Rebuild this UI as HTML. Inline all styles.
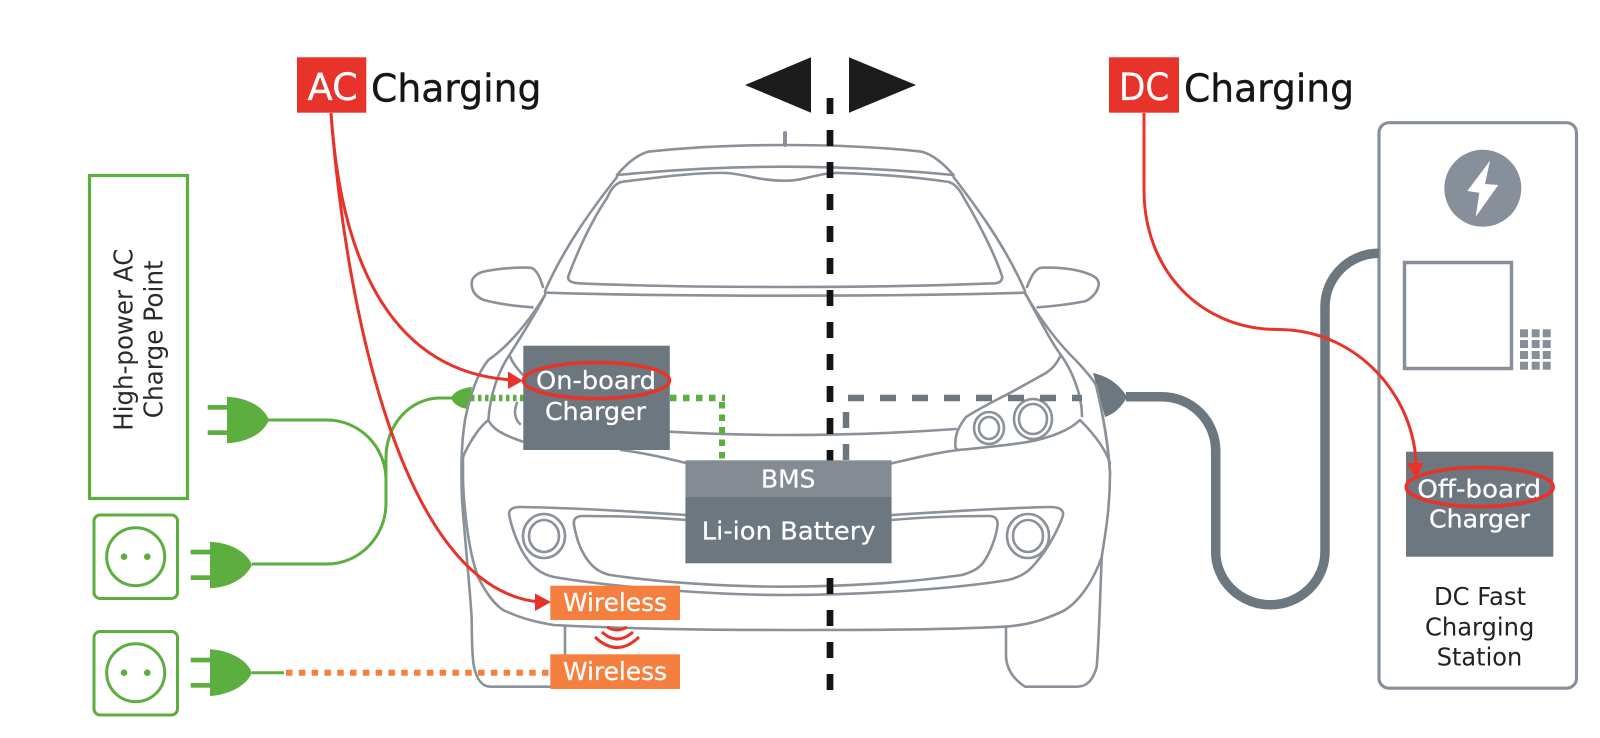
<!DOCTYPE html>
<html><head><meta charset="utf-8"><style>
html,body{margin:0;padding:0;background:#fff}
svg{display:block}
text{font-family:"DejaVu Sans","Liberation Sans",sans-serif}
.c{fill:none;stroke:#8a9199;stroke-width:2.6;stroke-linecap:round;stroke-linejoin:round}
.w{fill:#fff;stroke:#fff;stroke-width:.25}
.k{fill:#1c1c1c}
</style></head><body>
<svg width="1600" height="738" viewBox="0 0 1600 738" xmlns="http://www.w3.org/2000/svg">
<rect width="1600" height="738" fill="#fff"/>

<path d="M472,387C460,388 453,393 451,398C453,404 460,408 468,409Z" fill="#5cae3e"/>

<!-- car -->
<g class="c">
<path d="M785,145V133" stroke-width="4"/>
<path d="M617,175C627,163 637,155 648,151.7C690,147 740,145 785,145C830,145 880,147 922,151.7C934,155 944,164 953.5,175"/>
<path d="M617,175C680,169 730,166.7 785,166.7C840,166.7 890,169 953.5,175"/>
<path d="M617,177C595,205 565,245 545,291"/>
<path d="M953.5,177C975,205 1005,245 1025,291"/>
<path d="M621,182C660,177 700,172 726,173C745,174 760,181 785,180.7C805,181 820,172 840,173C875,174 915,177 949,182C955,184 960,190 964,198C980,225 995,255 1002,276C1003,281 999,283 995,283.3C925,286 860,287 785,287C710,287 640,286 579,283.3C572,283 567,281 568.4,276C578,250 592,220 607,198C611,189 615,184 621,182Z"/>
<path d="M545,292.7C620,295 700,295.7 785,295.7C870,295.7 950,295 1025,292.7"/>
<path d="M543,287C540,277 536,268 530,267.7C515,267 495,269 482,272C474,275 471.6,279 471.6,284C472,292 476,297 484,300C498,304 515,306 532.6,307.3"/>
<path d="M1027,287C1031,277 1035,268 1042,267.7C1057,267 1075,269 1086,273C1095,276 1098.7,279 1098.7,284C1098,292 1093,297 1086,301C1072,304 1055,306 1037.6,307.3"/>
<path d="M545,295C530,320 510,345 488.4,360C478,372 470,395 465,420C461,445 461,470 462,500C465,540 470,590 471.6,617C472,640 472,655 474,667C477,680 482,686.7 490.5,686.7H552"/>
<path d="M545,295C535,315 520,338 509.4,355C498,372 490,395 488.4,420"/>
<path d="M509.4,355C512,362 518,370 524,376"/>
<path d="M1025,293C1040,320 1060,345 1075.5,360C1085,370 1092,378 1096,385C1102,410 1108,440 1110,473C1110,510 1105,535 1101.7,557C1100,600 1099,640 1096.7,667C1093,680 1087,686.7 1076.7,686.7H1025C1015,680 1006,670 1006,655V626.7"/>
<path d="M1025,293C1040,320 1050,340 1060.8,355C1072,370 1082,395 1082,416"/>
<path d="M488.4,420C478,428 468,445 463,457"/>
<path d="M463,457V483"/>
<path d="M488.4,420C492,428 500,434 524,442"/>
<path d="M517,403C514,410 514,418 520,424"/>
<path d="M669,431.7C710,434 750,435 785,435C840,435 900,433 956,429"/>
<path d="M621,450C645,453 665,458 686,463"/>
<path d="M892,463.3C915,458 935,453 958,450C990,447 1010,445 1029,441.7C1050,438 1070,430 1080,420C1092,432 1105,448 1110,463"/>
<path d="M1060.8,355C1056,366 1050,370 1046,373C1035,379 1028,383 1020.8,387C1003,397 985,405 966,417C960,425 956,432 955.6,440C955,446 955,449 958,450"/>
<path d="M478,577C488,597 496,605 503,610C520,618 535,622 553.6,625C630,629 710,630 785,630C860,630 940,630 1004,626.7C1030,625 1045,619 1059,613C1072,608 1090,590 1101.7,557"/>
<path d="M463,483C465,520 470,555 478,577"/>
<path d="M565,626.7V655"/>
<path d="M686,515C640,512 580,508 520,507C512,507 508,510 509.4,516C512,530 520,550 528,560C535,570 545,575 554,577C600,585 700,595 785,595C870,595 960,588 1008,580C1025,576 1032,568 1038,560C1047,550 1058,530 1062.9,516C1064,510 1060,507 1050,507C1000,508 940,512 892,515"/>
<path d="M686,520C650,517 610,516 583,516C576,516 573,519 574,525C577,542 583,555 590,563C596,570 602,573 610,575C665,583 730,586.7 785,586.7C840,586.7 905,583 962,575C972,572 978,569 983,563C990,553 996,538 997.6,525C998,519 995,516 989,516C960,516 925,517 892,520"/>
<ellipse cx="989" cy="428" rx="15" ry="16"/><ellipse cx="989" cy="428" rx="10" ry="11"/>
<ellipse cx="1033" cy="419" rx="19" ry="20"/><ellipse cx="1033" cy="419" rx="14" ry="15"/>
<ellipse cx="544" cy="536" rx="21" ry="22"/><ellipse cx="544" cy="536" rx="15" ry="16"/>
<ellipse cx="1028" cy="536" rx="21" ry="22"/><ellipse cx="1028" cy="536" rx="15" ry="16"/>
</g>

<!-- center divider -->
<path d="M830,98V692" stroke="#141414" stroke-width="6.7" stroke-dasharray="16 16" fill="none"/>
<polygon class="k" points="745,85 811,57.3 811,112.7"/>
<polygon class="k" points="916,85 849,57.3 849,112.7"/>

<!-- grey dashed -->
<path d="M848,398H1082" stroke="#6d7780" stroke-width="6.5" stroke-dasharray="16 16" fill="none"/>
<path d="M846,412V460" stroke="#6d7780" stroke-width="6.5" stroke-dasharray="16 16" fill="none"/>

<!-- green dotted -->
<path d="M471,398H524" stroke="#5cae3e" stroke-width="6.5" stroke-dasharray="3.5 3.5" fill="none"/>
<path d="M670,398H725" stroke="#5cae3e" stroke-width="6.5" stroke-dasharray="6.5 6.5" fill="none"/>
<path d="M722,402V462" stroke="#5cae3e" stroke-width="6" stroke-dasharray="6.5 6" fill="none"/>

<!-- boxes -->
<rect x="523.3" y="345.7" width="146.5" height="104.3" fill="#6d7780"/>
<rect x="685.4" y="460.3" width="206.2" height="37" fill="#848b92"/>
<rect x="685.4" y="497" width="206.2" height="66.3" fill="#6d7780"/>
<rect x="550.3" y="585.7" width="129.7" height="34.3" fill="#f47f3f"/>
<rect x="550.3" y="654.3" width="129.7" height="34.7" fill="#f47f3f"/>
<text class="w" x="536" y="389" font-size="25" textLength="120" lengthAdjust="spacingAndGlyphs">On-board</text>
<text class="w" x="545" y="420" font-size="25" textLength="101" lengthAdjust="spacingAndGlyphs">Charger</text>
<text class="w" x="761" y="487.3" font-size="25" textLength="54.4" lengthAdjust="spacingAndGlyphs">BMS</text>
<text class="w" x="701.8" y="539.3" font-size="25" textLength="173.8" lengthAdjust="spacingAndGlyphs">Li-ion Battery</text>
<text class="w" x="563" y="611" font-size="25" textLength="104" lengthAdjust="spacingAndGlyphs">Wireless</text>
<text class="w" x="563" y="680" font-size="25" textLength="104" lengthAdjust="spacingAndGlyphs">Wireless</text>

<!-- wireless arcs -->
<g fill="none" stroke="#e8332a" stroke-width="3">
<path d="M607,627Q617,633 627,627"/>
<path d="M602,632Q617,646 633,632"/>
<path d="M595,637Q617,658 639,637"/>
</g>

<!-- green left -->
<rect x="89.5" y="175.5" width="98" height="323" fill="none" stroke="#5cae3e" stroke-width="3.2"/>
<text transform="translate(132.7,430.7) rotate(-90)" font-size="26" fill="#2b2b2b" textLength="182" lengthAdjust="spacingAndGlyphs">High-power AC</text>
<text transform="translate(162.7,418.3) rotate(-90)" font-size="26" fill="#2b2b2b" textLength="158" lengthAdjust="spacingAndGlyphs">Charge Point</text>

<g fill="none" stroke="#5cae3e" stroke-width="3">
<path d="M268,420H327A59,60 0 0 1 386,480V503A59,61 0 0 1 327,564H252"/>
<path d="M386,480V457C386,425 410,398 440,398H452"/>
<path d="M252,672.7H284"/>
<rect x="94" y="515" width="83.5" height="83.5" rx="6"/>
<circle cx="135.7" cy="556.7" r="29"/>
<rect x="94" y="631.5" width="83.5" height="83.5" rx="6"/>
<circle cx="135.7" cy="672.7" r="29"/>
</g>
<g fill="#5cae3e">
<circle cx="124" cy="556.7" r="3.3"/><circle cx="147.3" cy="556.7" r="3.3"/>
<circle cx="124" cy="672.7" r="3.3"/><circle cx="147.3" cy="672.7" r="3.3"/>
<path d="M227,396.7C250,398 264,408 269,420C264,432 250,442 227,443.3Z"/>
<rect x="207.7" y="405" width="20" height="4.7"/><rect x="207.7" y="430.3" width="20" height="4.7"/>
<path d="M210,541.7C233,543 247,553 252,564.7C247,576 233,587 210,588.3Z"/>
<rect x="190.7" y="549.7" width="20" height="4.7"/><rect x="190.7" y="575.3" width="20" height="4.7"/>
<path d="M210,649.3C233,651 247,661 252,672.7C247,684 233,694 210,696Z"/>
<rect x="190.7" y="657.7" width="20" height="4.7"/><rect x="190.7" y="683" width="20" height="4.7"/>
</g>
<path d="M286,672.7H550" stroke="#f47f3f" stroke-width="6" stroke-dasharray="6.5 6.3" fill="none"/>

<!-- station -->
<rect x="1379" y="122.7" width="197.5" height="565.5" rx="10" fill="none" stroke="#87909a" stroke-width="3.2"/>
<circle cx="1482.8" cy="188.3" r="38.5" fill="#87909a"/>
<polygon fill="#fff" points="1490,160.7 1467.3,191 1479.3,192.7 1475.7,216.7 1498.3,185 1485,184"/>
<rect x="1404.5" y="262.5" width="107" height="106" fill="none" stroke="#87909a" stroke-width="3.5"/>
<g fill="#87909a">
<rect x="1520" y="329.3" width="8" height="8"/><rect x="1531.7" y="329.3" width="8" height="8"/><rect x="1542.7" y="329.3" width="8" height="8"/>
<rect x="1520" y="340" width="8" height="8"/><rect x="1531.7" y="340" width="8" height="8"/><rect x="1542.7" y="340" width="8" height="8"/>
<rect x="1520" y="351" width="8" height="8"/><rect x="1531.7" y="351" width="8" height="8"/><rect x="1542.7" y="351" width="8" height="8"/>
<rect x="1520" y="361.7" width="8" height="8"/><rect x="1531.7" y="361.7" width="8" height="8"/><rect x="1542.7" y="361.7" width="8" height="8"/>
</g>
<path d="M1126,396.7H1161.7A54,54 0 0 1 1215.7,450.7V551.7A54.6,53 0 0 0 1325,551.7V306.7A54,53.4 0 0 1 1379,253.3" fill="none" stroke="#6d7780" stroke-width="9.5"/>
<path d="M1093,373C1108,376 1120,385 1127,397C1122,407 1114,414 1105,417Z" fill="#6d7780"/>
<path d="M1096,385C1102,410 1108,440 1110,473" class="c"/>

<rect x="1406" y="451.7" width="147.3" height="105" fill="#6d7780"/>
<text class="w" x="1417.3" y="497.3" font-size="25" textLength="123.7" lengthAdjust="spacingAndGlyphs">Off-board</text>
<text class="w" x="1429" y="527.7" font-size="25" textLength="101" lengthAdjust="spacingAndGlyphs">Charger</text>
<text x="1434" y="605" font-size="25" fill="#222" textLength="92" lengthAdjust="spacingAndGlyphs">DC Fast</text>
<text x="1425" y="635.3" font-size="25" fill="#222" textLength="109.3" lengthAdjust="spacingAndGlyphs">Charging</text>
<text x="1436.7" y="665.7" font-size="25" fill="#222" textLength="85.6" lengthAdjust="spacingAndGlyphs">Station</text>

<!-- red connectors -->
<g fill="none" stroke="#e8332a" stroke-width="3">
<path d="M331,113C340,250 385,372 512,380"/>
<path d="M331,113C345,300 400,590 540,602"/>
<path d="M1144,113V190C1144,270 1200,329.5 1278,329.5C1360,329.5 1416,400 1416,467"/>
<ellipse cx="596.5" cy="380.5" rx="73" ry="18" stroke-width="3.6"/>
<ellipse cx="1479.7" cy="487" rx="73.5" ry="19.5" stroke-width="3.6"/>
</g>
<g fill="#e8332a">
<polygon points="523,380.7 508,371.5 508,389"/>
<polygon points="551,602 535,593.5 535,611"/>
<polygon points="1416,478 1406,463 1424,463"/>
</g>

<!-- headings -->
<rect x="297" y="57.3" width="69.3" height="55.4" fill="#e8332a"/>
<rect x="1109" y="57.3" width="70" height="55.4" fill="#e8332a"/>
<text class="w" x="307.5" y="100" font-size="37" textLength="50.3" lengthAdjust="spacingAndGlyphs">AC</text>
<text class="w" x="1119" y="100" font-size="37" textLength="50.3" lengthAdjust="spacingAndGlyphs">DC</text>
<text x="371" y="101.5" font-size="38" fill="#161616" stroke="#161616" stroke-width=".4" textLength="170.4" lengthAdjust="spacingAndGlyphs">Charging</text>
<text x="1184" y="101.5" font-size="38" fill="#161616" stroke="#161616" stroke-width=".4" textLength="170" lengthAdjust="spacingAndGlyphs">Charging</text>
</svg>
</body></html>
